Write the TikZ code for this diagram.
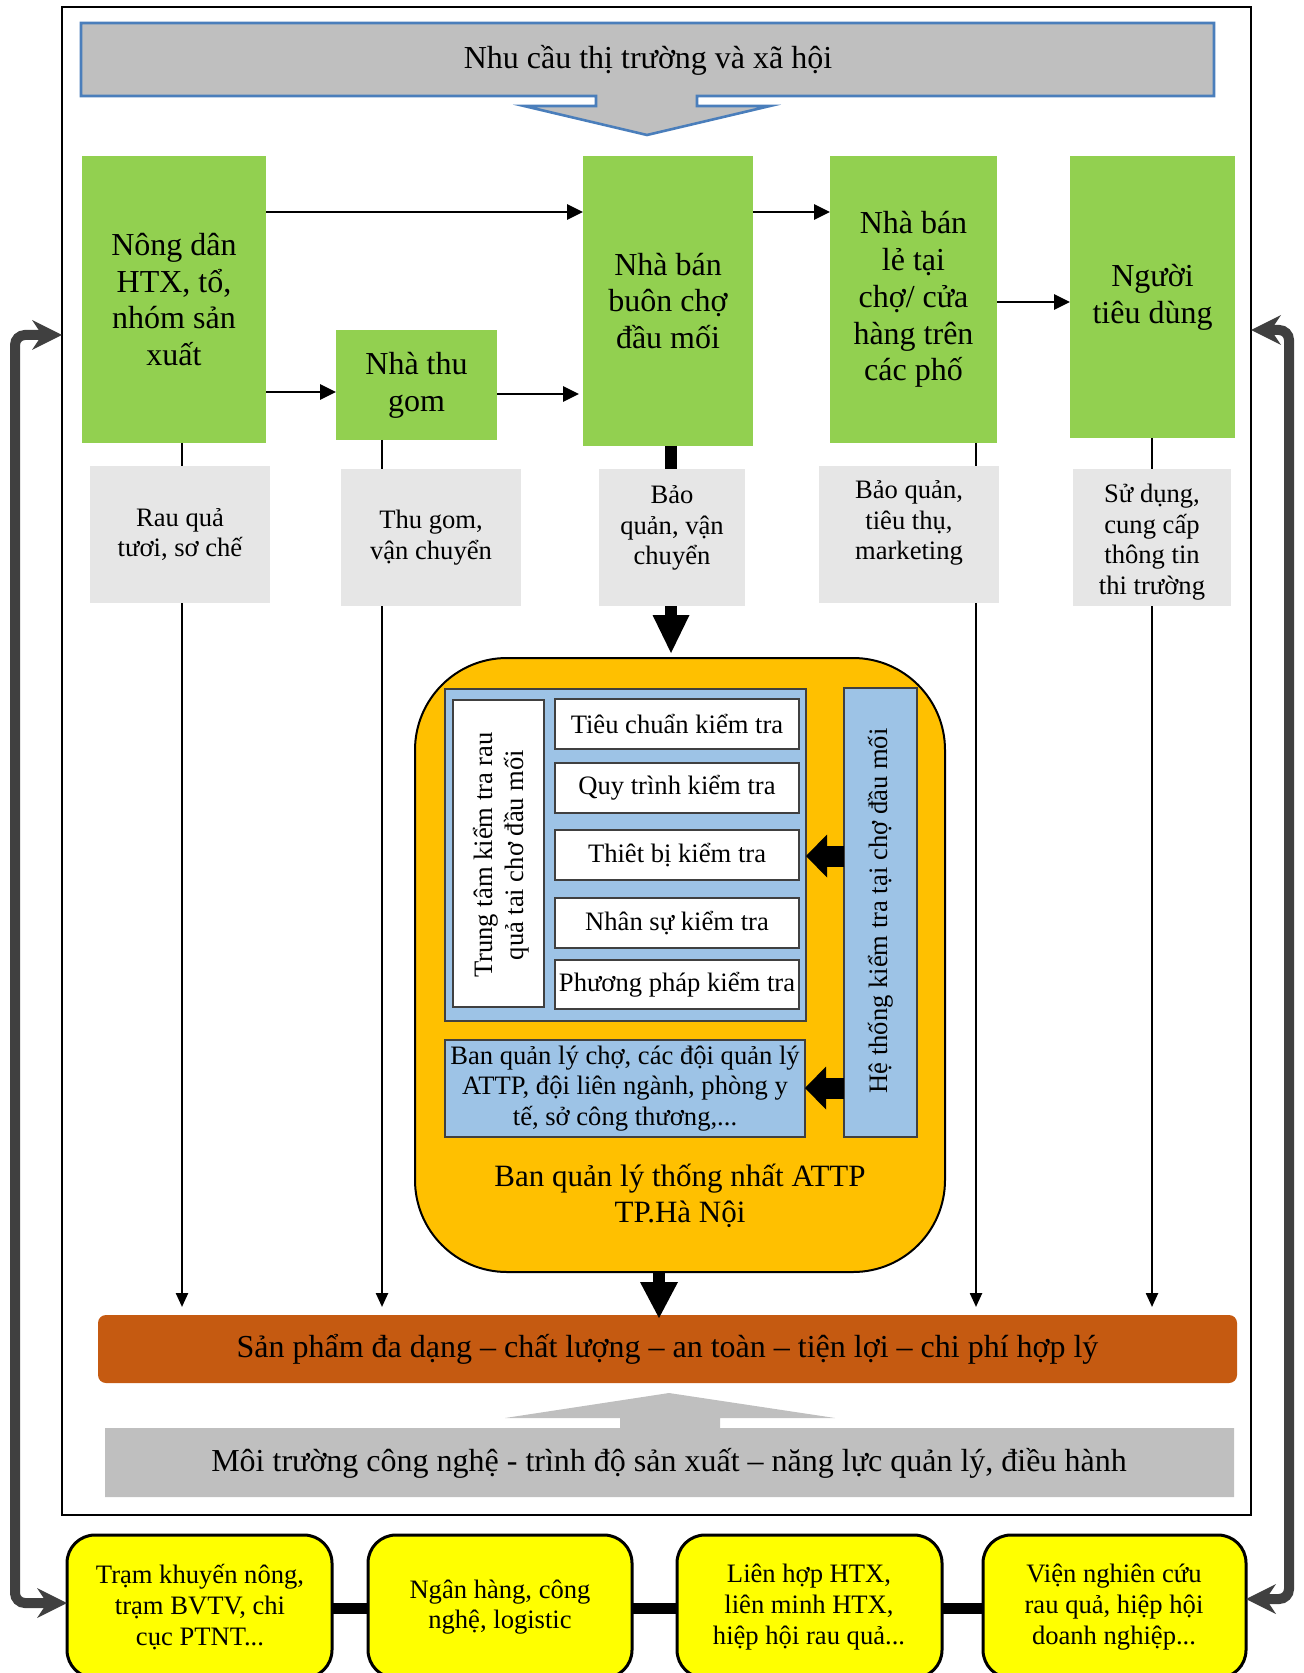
\documentclass[tikz,border=0pt]{standalone}
\usepackage{fontspec}
\setmainfont{Liberation Serif}
\usetikzlibrary{fit,arrows.meta}

\definecolor{leaf}{HTML}{92D050}
\definecolor{paleg}{HTML}{E6E6E6}
\definecolor{midg}{HTML}{BFBFBF}
\definecolor{steel}{HTML}{4A7EBB}
\definecolor{amber}{HTML}{FFC000}
\definecolor{sky}{HTML}{9DC3E6}
\definecolor{rust}{HTML}{C55A11}
\definecolor{lemon}{HTML}{FFFF00}
\definecolor{slate}{HTML}{404040}

\tikzset{
  base/.style={inner sep=0pt, outer sep=0pt},
  big/.style={font=\fontsize{16}{18.4}\selectfont, align=center},
  small/.style={font=\fontsize{13.3}{15.3}\selectfont, align=center},
  mid/.style={font=\fontsize{15.5}{18}\selectfont, align=center},
  actor/.style={base, fill=leaf},
  task/.style={base, fill=paleg},
  panel/.style={base, fill=sky, draw=slate, line width=0.6pt},
  item/.style={base, fill=white, draw=slate, line width=0.8pt},
  partner/.style={base, fill=lemon, draw=black, line width=1.5pt, rounded corners=14pt},
  flow/.style={line width=1.35pt, -{Triangle[length=8pt,width=7.5pt]}},
  stem/.style={line width=1.2pt},
  drop/.style={line width=1.2pt, -{Triangle[length=7pt,width=6pt]}, shorten >=4pt},
  feed/.style={draw=slate, line width=5pt, rounded corners=5pt},
}

% arrow heads of the feedback loops (pointing right / left)
\newcommand{\feedheadR}[1]{\fill[slate] (#1) -- ++(-30,-15) -- ++(10,15) -- ++(-10,15) -- cycle;}
\newcommand{\feedheadL}[1]{\fill[slate] (#1) -- ++(30,-15) -- ++(-10,15) -- ++(10,15) -- cycle;}

\begin{document}
\begin{tikzpicture}[x=0.5pt,y=-0.5pt]
\useasboundingbox (0,0) rectangle (1304,1673);

% guide rows and columns
\coordinate (cA) at (182,0);
\coordinate (cB) at (382,0);
\coordinate (cC) at (671,0);
\coordinate (cD) at (976,0);
\coordinate (cE) at (1152,0);
\coordinate (cP) at (659,0);
\coordinate (rTop) at (0,212);
\coordinate (rLow1) at (0,392);
\coordinate (rLow2) at (0,394);
\coordinate (rMid) at (0,302);
\coordinate (rK1) at (0,856);
\coordinate (rK2) at (0,1088);
\coordinate (rY) at (0,1608);
\coordinate (rL1) at (0,335);
\coordinate (rL2) at (0,1603);
\coordinate (rR1) at (0,330);
\coordinate (rR2) at (0,1599);
\coordinate (xL) at (15,0);
\coordinate (xR) at (1289,0);

% outer frame
\node[base, draw, line width=1pt, fit={(62,7.5) (1251,1515)}] (frame) {};

% market demand banner with its down arrow
\filldraw[fill=midg, draw=steel, line width=1.3pt]
  (81,23) -- (1214,23) -- (1214,96) -- (697,96) -- (697,106) -- (770,106)
  -- (647,135) -- (524,106) -- (596,106) -- (596,96) -- (81,96) -- cycle;
\node[big] (need) at (648,60) {Nhu cầu thị trường và xã hội};

% actors of the chain
\node[actor, fit={(82,156) (266,443)}] (g1) {};
\node[big] (g1-t) at (g1.center) {Nông dân\\HTX, tổ,\\nhóm sản\\xuất};
\node[actor, fit={(336,330) (497,440)}] (g2) {};
\node[big] (g2-t) at (g2.center) {Nhà thu\\gom};
\node[actor, fit={(583,156) (753,446)}] (g3) {};
\node[big] (g3-t) at (g3.center) {Nhà bán\\buôn chợ\\đầu mối};
\node[actor, fit={(830,156) (997,443)}] (g4) {};
\node[big] (g4-t) at (g4.center) {Nhà bán\\lẻ tại\\chợ/ cửa\\hàng trên\\các phố};
\node[actor, fit={(1070,156) (1235,438)}] (g5) {};
\node[big] (g5-t) at (g5.center) {Người\\tiêu dùng};

\draw[flow] (g1.east |- rTop) -- (g3.west |- rTop);
\draw[flow] (g3.east |- rTop) -- (g4.west |- rTop);
\draw[flow] (g1.east |- rLow1) -- (g2.west |- rLow1);
\draw[flow] (g2.east |- rLow2) -- ([xshift=-2pt]g3.west |- rLow2);
\draw[flow] (g4.east |- rMid) -- (g5.west |- rMid);

% activities of each actor
\node[task, fit={(90,466) (270,603)}] (la) {};
\node[small] (la-t) at (la.center) {Rau quả\\tươi, sơ chế};
\node[task, fit={(341,469) (521,606)}] (lb) {};
\node[small] (lb-t) at (lb.center) {Thu gom,\\vận chuyển};
\node[task, fit={(599,469) (745,606)}] (lc) {};
\node[small] (lc-t) at (672,528) {Bảo\\quản, vận\\chuyển};
\node[task, fit={(819,466) (999,603)}] (ld) {};
\node[small] (ld-t) at (909,523) {Bảo quản,\\tiêu thụ,\\marketing};
\node[task, fit={(1073,469) (1231,606)}] (le) {};
\begin{scope}
  \clip (1073,469) rectangle (1231,606);
  \node[small] (le-t) at (1152,542) {Sử dụng,\\cung cấp\\thông tin\\thi trường};
\end{scope}

\draw[stem] (g1.south -| cA) -- (la.north -| cA);
\draw[stem] (g2.south -| cB) -- (lb.north -| cB);
\draw[line width=6pt] (g3.south -| cC) -- (lc.north -| cC);
\draw[stem] (g4.south -| cD) -- (ld.north -| cD);
\draw[stem] (g5.south -| cE) -- (le.north -| cE);

% food safety management block
\node[base, fill=amber, draw, line width=1pt, rounded corners=46pt, fit={(415,658) (945,1272)}] (orange) {};
\node[mid] (board) at (680,1196) {Ban quản lý thống nhất ATTP\\TP.Hà Nội};

\draw[line width=6pt, shorten >=20pt] (lc.south -| cC) -- (orange.north -| cC);
\fill ([yshift=2.5pt]orange.north -| cC) -- ++(-18.5,-38) -- ++(37,0) -- cycle;

\node[panel, fit={(445,689) (806,1021)}] (center) {};
\node[item, fit={(453,700) (544,1007)}] (wv) {};
\node[small, rotate=90] (wv-t) at (501,855) {Trung tâm kiểm tra rau\\quả tai chơ đầu mối};
\node[item, fit={(555,699) (799,749)}] (w1) {};
\node[small] (w1-t) at (w1.center) {Tiêu chuẩn kiểm tra};
\node[item, fit={(555,763) (799,813)}] (w2) {};
\node[small] (w2-t) at (w2.center) {Quy trình kiểm tra};
\node[item, fit={(555,830) (799,880)}] (w3) {};
\node[small] (w3-t) at (w3.center) {Thiêt bị kiểm tra};
\node[item, fit={(555,898) (799,948)}] (w4) {};
\node[small] (w4-t) at (w4.center) {Nhân sự kiểm tra};
\node[item, fit={(555,960) (799,1009)}] (w5) {};
\node[small] (w5-t) at (w5.center) {Phương pháp kiểm tra};

\node[panel, fit={(445,1040) (805,1137)}] (auth) {};
\node[small] (auth-t) at (auth.center) {Ban quản lý chợ, các đội quản lý\\ATTP, đội liên ngành, phòng y\\tế, sở công thương,...};

\node[panel, fit={(844,688) (917,1137)}] (hb) {};
\node[small, rotate=90] (hb-t) at (881,911) {Hệ thống kiểm tra tại chợ đầu mối};

\draw[line width=10.5pt, shorten >=9pt] (hb.west |- rK1) -- (center.east |- rK1);
\fill (center.east |- rK1) -- ++(21,-21.5) -- ++(0,43) -- cycle;
\draw[line width=10.5pt, shorten >=9pt] (hb.west |- rK2) -- (auth.east |- rK2);
\fill (auth.east |- rK2) -- ++(21,-21.5) -- ++(0,43) -- cycle;

% outcome bar
\node[base, fill=rust, rounded corners=4pt, fit={(98,1315) (1237,1383)}] (prod) {};
\node[big] (prod-t) at (prod.center) {Sản phẩm đa dạng – chất lượng – an toàn – tiện lợi – chi phí hợp lý};

\draw[drop] (la.south -| cA) -- (prod.north -| cA);
\draw[drop] (lb.south -| cB) -- (prod.north -| cB);
\draw[drop] (ld.south -| cD) -- (prod.north -| cD);
\draw[drop] (le.south -| cE) -- (prod.north -| cE);

\draw[line width=6pt, shorten >=16pt] (orange.south -| cP) -- (prod.north -| cP);
\fill ([yshift=-1.5pt]prod.north -| cP) -- ++(-19,-36) -- ++(38,0) -- cycle;

% technology environment with its up arrow
\fill[midg] (105,1428) -- (620,1428) -- (620,1418) -- (505,1418) -- (669,1393)
  -- (835,1418) -- (720,1418) -- (720,1428) -- (1234,1428) -- (1234,1497)
  -- (105,1497) -- cycle;
\node[big] (env) at (669,1463) {Môi trường công nghệ - trình độ sản xuất – năng lực quản lý, điều hành};

% supporting institutions
\node[partner, fit={(67,1535) (332,1678)}] (y1) {};
\node[small] (y1-t) at (200,1607) {Trạm khuyến nông,\\trạm BVTV, chi\\cục PTNT...};
\node[partner, fit={(368,1535) (632,1678)}] (y2) {};
\node[small] (y2-t) at (500,1607) {Ngân hàng, công\\nghệ, logistic};
\node[partner, fit={(677,1535) (942,1678)}] (y3) {};
\node[small] (y3-t) at (809,1607) {Liên hợp HTX,\\liên minh HTX,\\hiệp hội rau quả...};
\node[partner, fit={(983,1535) (1246,1678)}] (y4) {};
\node[small] (y4-t) at (1114,1607) {Viện nghiên cứu\\rau quả, hiệp hội\\doanh nghiệp...};

\draw[line width=5.5pt] (y1.east |- rY) -- (y2.west |- rY);
\draw[line width=5.5pt] (y2.east |- rY) -- (y3.west |- rY);
\draw[line width=5.5pt] (y3.east |- rY) -- (y4.west |- rY);

% feedback loops between the chain and the institutions
\draw[feed, shorten <=10pt, shorten >=10pt] (frame.west |- rL1) -- (xL |- rL1) -- (xL |- rL2) -- (y1.west |- rL2);
\feedheadR{frame.west |- rL1}
\feedheadR{y1.west |- rL2}
\draw[feed, shorten <=10pt, shorten >=10pt] (frame.east |- rR1) -- (xR |- rR1) -- (xR |- rR2) -- (y4.east |- rR2);
\feedheadL{frame.east |- rR1}
\feedheadL{y4.east |- rR2}
\end{tikzpicture}
\end{document}
